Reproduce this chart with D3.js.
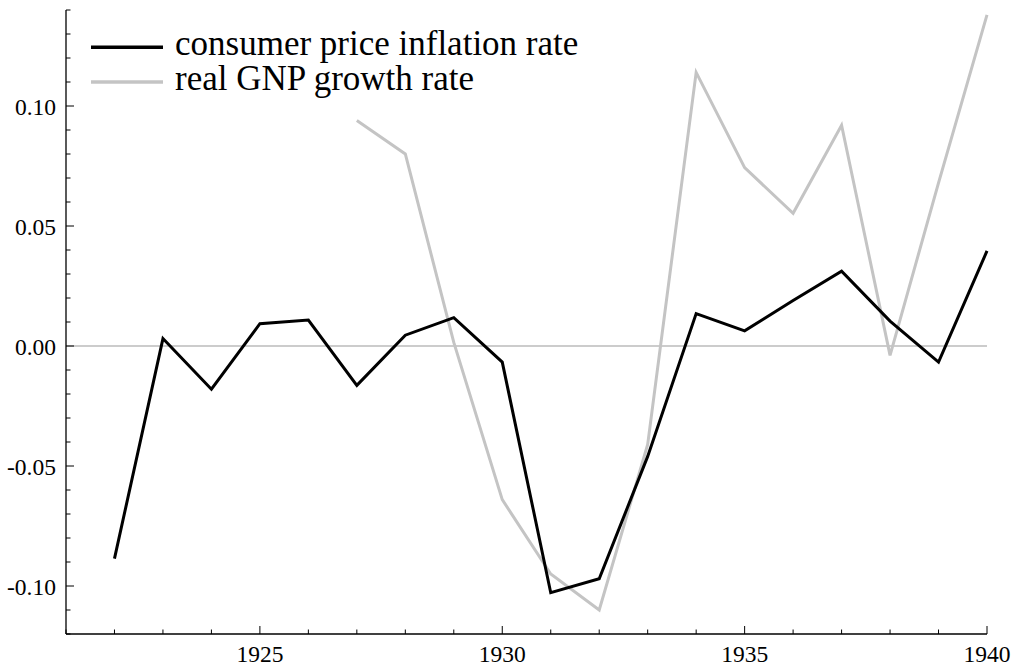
<!DOCTYPE html>
<html>
<head>
<meta charset="utf-8">
<script src="https://cdn.jsdelivr.net/npm/d3@7"></script>
<style>
  body { margin: 0; background: #fff; }
</style>
</head>
<body>
<div id="viz"></div>
<script>
// values
var years = [1922, 1923, 1924, 1925, 1926, 1927, 1928, 1929, 1930, 1931,
             1932, 1933, 1934, 1935, 1936, 1937, 1938, 1939, 1940];
var inflation = [-0.0886, 0.0031, -0.018, 0.0093, 0.0108, -0.0164, 0.0045, 0.0118, -0.0067, -0.1028,
                 -0.097, -0.046, 0.0135, 0.0063, 0.0190, 0.0312, 0.0104, -0.0067, 0.0396];
var gnpYears = [1927, 1928, 1929, 1930, 1931, 1932, 1933, 1934, 1935, 1936, 1937, 1938, 1939, 1940];
var gnpGrowth = [0.094, 0.080, 0.0015, -0.064, -0.095, -0.110, -0.041, 0.114, 0.0743, 0.0553, 0.092, -0.0039, 0.068, 0.138];
var xTicks = [1925, 1930, 1935, 1940];
var yTicks = [-0.10, -0.05, 0.00, 0.05, 0.10];
var legendLabels = ["consumer price inflation rate", "real GNP growth rate"];

var serif = "'Liberation Serif', 'Times New Roman', serif";

var w = 1018, h = 669;
var margin = {top: 10, right: 31, bottom: 35, left: 66};

var x = d3.scaleLinear().domain([1921, 1940]).range([margin.left, w - margin.right]);
var y = d3.scaleLinear().domain([-0.12, 0.14]).range([h - margin.bottom, margin.top]);

var svg = d3.select("#viz").append("svg")
            .attr("width", w)
            .attr("height", h)
            .attr("font-family", serif);

// zero line
svg.append("line")
   .attr("x1", x(1921)).attr("x2", x(1940))
   .attr("y1", y(0)).attr("y2", y(0))
   .style("stroke", "#999")
   .style("stroke-width", 1);

// axes: ticks pointing inward, minor ticks every year / every 0.01
var xMinor = d3.range(1921, 1941);
var yMinor = d3.range(-12, 15).map(function(d){ return d / 100; });

var gx = svg.append("g").attr("transform", "translate(0," + y(-0.12) + ")");
gx.append("line")
  .attr("x1", x(1921)).attr("x2", x(1940))
  .style("stroke", "#000").style("stroke-width", 1.3);
gx.selectAll("line.tick")
  .data(xMinor)
  .enter().append("line")
  .attr("class", "tick")
  .attr("x1", function(d){ return x(d); })
  .attr("x2", function(d){ return x(d); })
  .attr("y1", 0)
  .attr("y2", function(d){ return xTicks.indexOf(d) >= 0 ? -8 : -4.5; })
  .style("stroke", "#000").style("stroke-width", 1);
gx.selectAll("text")
  .data(xTicks)
  .enter().append("text")
  .attr("x", function(d){ return x(d); })
  .attr("y", 27.5)
  .attr("text-anchor", "middle")
  .style("font-family", serif)
  .style("font-size", "23.5px")
  .text(function(d){ return d; });

var gy = svg.append("g").attr("transform", "translate(" + x(1921) + ",0)");
gy.append("line")
  .attr("y1", y(-0.12)).attr("y2", y(0.14))
  .style("stroke", "#000").style("stroke-width", 1.3);
gy.selectAll("line.tick")
  .data(yMinor)
  .enter().append("line")
  .attr("class", "tick")
  .attr("y1", function(d){ return y(d); })
  .attr("y2", function(d){ return y(d); })
  .attr("x1", 0)
  .attr("x2", function(d){
    var major = yTicks.some(function(t){ return Math.abs(t - d) < 1e-9; });
    return major ? 8 : 4.5;
  })
  .style("stroke", "#000").style("stroke-width", 1);
gy.selectAll("text")
  .data(yTicks)
  .enter().append("text")
  .attr("x", -10)
  .attr("y", function(d){ return y(d) + 8.5; })
  .attr("text-anchor", "end")
  .style("font-family", serif)
  .style("font-size", "23.5px")
  .text(function(d){ return d3.format(".2f")(d).replace("\u2212", "-"); });

// lines
var line = d3.line()
             .x(function(d){ return x(d[0]); })
             .y(function(d){ return y(d[1]); });

svg.append("path")
   .datum(d3.zip(gnpYears, gnpGrowth))
   .attr("d", line)
   .style("fill", "none")
   .style("stroke", "#c4c4c4")
   .style("stroke-width", 3)
   .style("stroke-linejoin", "miter");

svg.append("path")
   .datum(d3.zip(years, inflation))
   .attr("d", line)
   .style("fill", "none")
   .style("stroke", "#000")
   .style("stroke-width", 3)
   .style("stroke-linejoin", "miter");

// legend
var legendColors = ["#000", "#c4c4c4"];
var legend = svg.selectAll("g.legend")
                .data(legendLabels)
                .enter().append("g")
                .attr("class", "legend")
                .attr("transform", function(d, i){ return "translate(0," + (47.3 + i * 34.7) + ")"; });
legend.append("line")
      .attr("x1", 91).attr("x2", 163)
      .style("stroke", function(d, i){ return legendColors[i]; })
      .style("stroke-width", 3.5);
legend.append("text")
      .attr("x", 175)
      .attr("y", 8)
      .style("font-family", serif)
      .style("font-size", "35px")
      .text(function(d){ return d; });
</script>
</body>
</html>
